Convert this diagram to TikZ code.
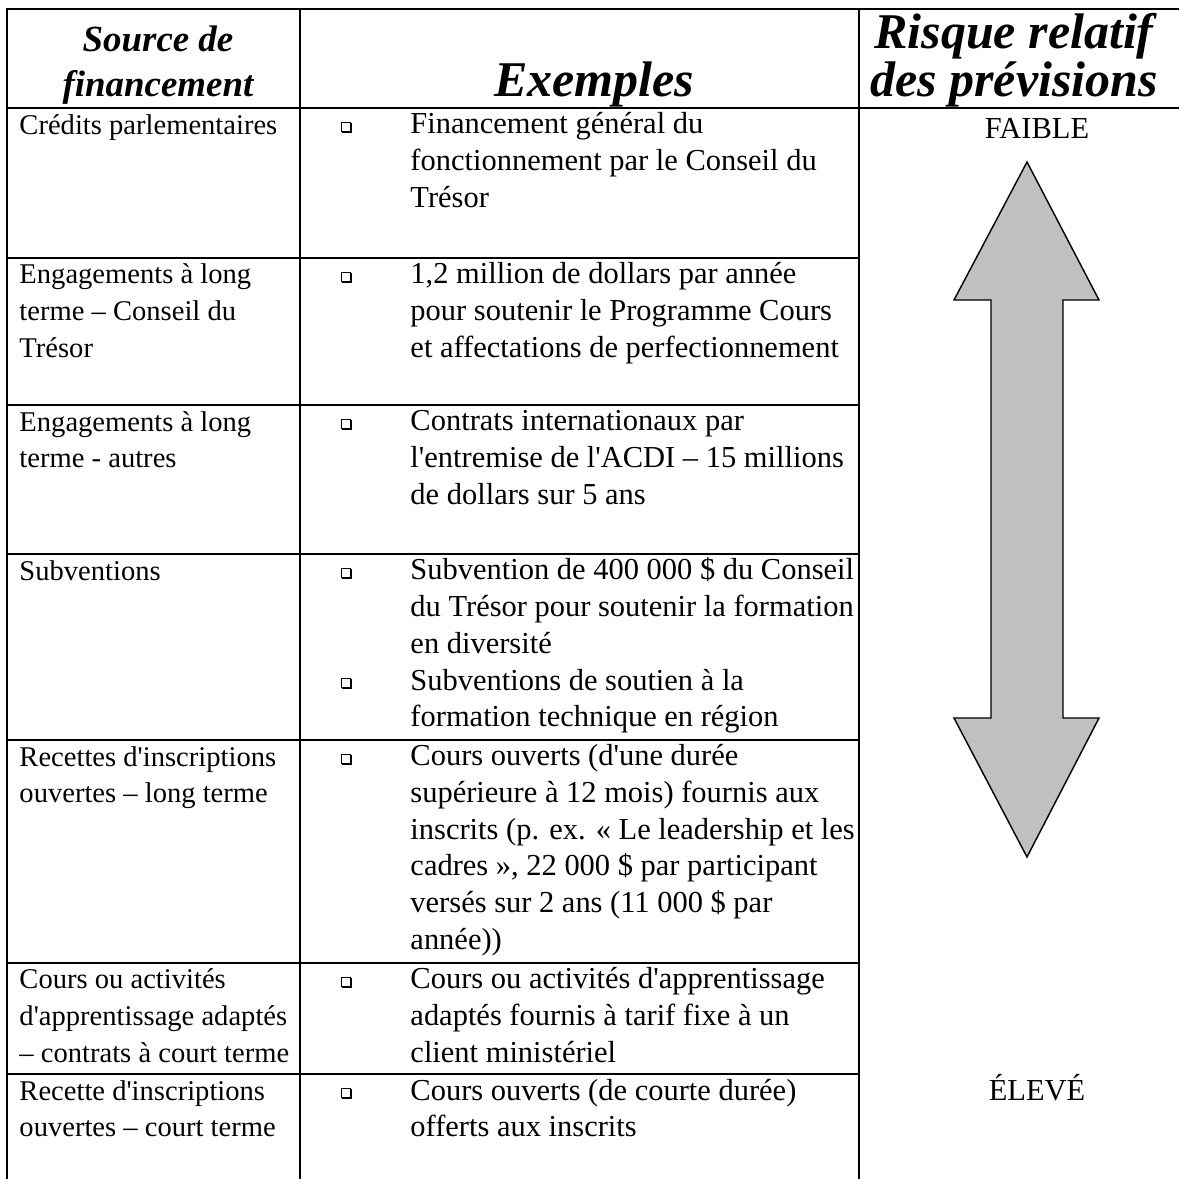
\documentclass[tikz,border=0pt]{standalone}
\usepackage{fontspec}
\newfontfamily\tnr{Liberation Serif}
\usetikzlibrary{shadows}
\definecolor{arrowgray}{RGB}{192,192,192}
\tikzset{
cell/.style = {anchor=base west, align=left, inner sep=0pt,
               font=\tnr\fontsize{12}{15.4}\selectfont},
excell/.style = {cell, font=\tnr\fontsize{12.8}{15.4}\selectfont},
head/.style = {anchor=base, align=center, inner sep=0pt,
               font=\tnr\bfseries\itshape\fontsize{15.5}{18.5}\selectfont},
bighead/.style = {head, font=\tnr\bfseries\itshape\fontsize{21}{18.5}\selectfont},
risk/.style = {anchor=base, inner sep=0pt,
               font=\tnr\fontsize{12.8}{15.4}\selectfont},
bul/.style = {rectangle, draw, fill=white, line width=0.4pt,
              minimum size=3.6pt, inner sep=0pt,
              copy shadow={shadow xshift=0.5pt, shadow yshift=-0.5pt,
                           fill=black, draw=black}},
grid/.style = {line width=0.8pt}
}

\begin{document}
\begin{tikzpicture}[x=0.42pt, y=-0.42pt]
    \useasboundingbox (0,0) rectangle (1179,1179);
    % table rules
    \draw[grid] (1190,9) -- (7,9) -- (7,1190);
    \draw[grid] (300,9) -- (300,1190);
    \draw[grid] (859,9) -- (859,1190);
    \draw[grid] (7,108) -- (1190,108);
    \draw[grid] (7,258) -- (859,258);
    \draw[grid] (7,405) -- (859,405);
    \draw[grid] (7,554) -- (859,554);
    \draw[grid] (7,740) -- (859,740);
    \draw[grid] (7,963) -- (859,963);
    \draw[grid] (7,1074) -- (859,1074);

    % header (base = last line)
    \node[head] (hSource) at (158,96) {Source de\\financement};
    \node[bighead] (hExemples) at (594,96) {Exemples};
    \node[bighead] (hRisque) at (1014,96) {Risque relatif\\des prévisions};

    % sources (base = last line)
    \node[cell] (src1) at (19,134) {Crédits parlementaires};
    \node[cell] (src2) at (19,357.3) {Engagements à long\\terme – Conseil du\\Trésor};
    \node[cell] (src3) at (19,467.7) {Engagements à long\\terme - autres};
    \node[cell] (src4) at (19,580) {Subventions};
    \node[cell] (src5) at (19,802.7) {Recettes d'inscriptions\\ouvertes – long terme};
    \node[cell] (src6) at (19,1062.3) {Cours ou activités\\d'apprentissage adaptés\\– contrats à court terme};
    \node[cell] (src7) at (19,1136.7) {Recette d'inscriptions\\ouvertes – court terme};

    % examples
    \node[bul] (bul1) at (346,127) {};
    \node[excell] (ex1) at (410,207.3) {Financement général du\\fonctionnement par le Conseil du\\Trésor};
    \node[bul] (bul2) at (346,277) {};
    \node[excell] (ex2) at (410,357.3) {1,2 million de dollars par année\\pour soutenir le Programme Cours\\et affectations de perfectionnement};
    \node[bul] (bul3) at (346,424) {};
    \node[excell] (ex3) at (410,504.3) {Contrats internationaux par\\l'entremise de l'ACDI – 15 millions\\de dollars sur 5 ans};
    \node[bul] (bul4a) at (346,573) {};
    \node[excell] (ex4a) at (410,653.3) {Subvention de 400 000 \$ du Conseil\\du Trésor pour soutenir la formation\\en diversité};
    \node[bul] (bul4b) at (346,683) {};
    \node[excell] (ex4b) at (410,726.7) {Subventions de soutien à la\\formation technique en région};
    \node[bul] (bul5) at (346,759) {};
    \node[excell] (ex5) at (410,949.3) {Cours ouverts (d'une durée\\supérieure à 12 mois) fournis aux\\inscrits (p. ex. « Le leadership et les\\cadres », 22 000 \$ par participant\\versés sur 2 ans (11 000 \$ par\\année))};
    \node[bul] (bul6) at (346,982) {};
    \node[excell] (ex6) at (410,1062.3) {Cours ou activités d'apprentissage\\adaptés fournis à tarif fixe à un\\client ministériel};
    \node[bul] (bul7) at (346,1093) {};
    \node[excell] (ex7) at (410,1136.7) {Cours ouverts (de courte durée)\\offerts aux inscrits};

    % risk scale
    \node[risk] (low) at (1037,138) {FAIBLE};
    \node[risk] (high) at (1037,1100) {ÉLEVÉ};
    \draw[line width=0.6pt, fill=arrowgray] (1027,162) -- (1099,300) -- (1063,300)
        -- (1063,718) -- (1099,718) -- (1027,857) -- (954,718) -- (991,718)
        -- (991,300) -- (954,300) -- cycle;
\end{tikzpicture}
\end{document}
